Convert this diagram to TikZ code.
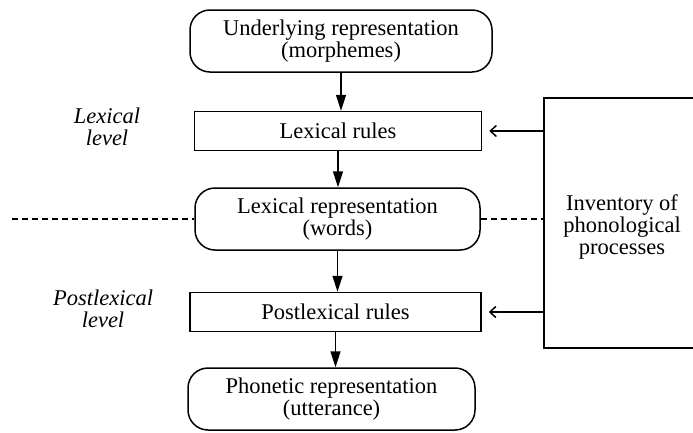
\documentclass[tikz,border=0pt]{standalone}
\usepackage{fontspec}
\setmainfont{Liberation Serif}
\usetikzlibrary{arrows.meta}
\begin{document}
\begin{tikzpicture}[x=1pt,y=-1pt,
  every node/.style={font=\fontsize{22.5}{22}\selectfont, align=center, inner sep=0pt},
  rbox/.style={draw, line width=1.5pt, rounded corners=20pt, minimum width=#1, minimum height=62pt},
  sbox/.style={draw, line width=1.5pt, minimum width=#1, minimum height=39pt},
  flow/.style={line width=1.5pt, -{Triangle[length=16pt,width=10pt]}},
  feed/.style={line width=1.5pt, -{Straight Barb[length=6pt,width=11pt,line width=1.5pt]}},
  dline/.style={line width=2.4pt, dash pattern=on 6pt off 4pt},
  lvl/.style={font=\fontsize{22.5}{22}\selectfont\itshape}]
\useasboundingbox (0,0) rectangle (693,432);
\node[rbox=302pt] (ur) at (341,41) {Underlying representation\\(morphemes)};
\node[sbox=287pt] (lr) at (338,131) {Lexical rules};
\node[rbox=285pt] (lx) at (337.5,219) {Lexical representation\\(words)};
\node[sbox=291pt] (pr) at (335.5,312) {Postlexical rules};
\node[rbox=287pt] (ph) at (331.5,399) {Phonetic representation\\(utterance)};
\node[lvl] (ll) at (107,127) {Lexical\\level};
\node[lvl] (pl) at (103,309) {Postlexical\\level};
\node (inv) at (622,227) {Inventory of\\phonological\\processes};
\coordinate (boxtl) at (544,98);
\coordinate (boxbl) at (544,348);
\draw[line width=1.5pt] (695,98) -- (boxtl) -- (boxbl) -- (695,348);
\coordinate (dl) at (12,219);
\draw[flow] (ur.south) -- (ur.south |- lr.north);
\draw[flow] (lr.south) -- (lr.south |- lx.north);
\draw[flow] (lx.south) -- (lx.south |- pr.north);
\draw[flow] (pr.south) -- (pr.south |- ph.north);
\draw[feed] (boxtl |- lr) -- ([xshift=7pt]lr.east);
\draw[feed] (boxtl |- pr) -- ([xshift=7pt]pr.east);
\draw[dline] (dl) -- (lx.west);
\draw[dline] (lx.east) -- (boxtl |- lx);
\end{tikzpicture}
\end{document}
